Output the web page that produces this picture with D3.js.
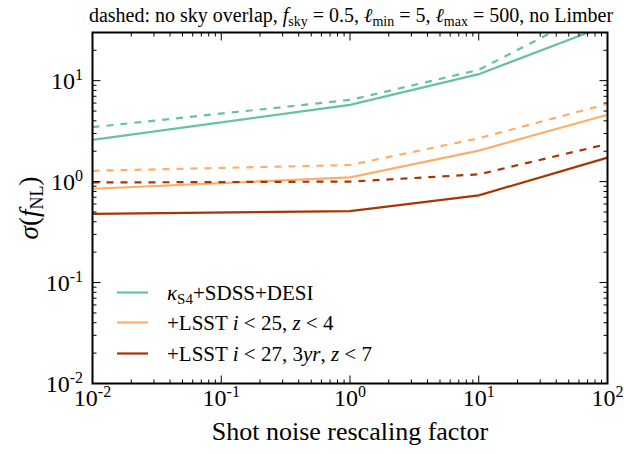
<!DOCTYPE html>
<html><head><meta charset="utf-8">
<script src="https://cdn.jsdelivr.net/npm/d3@7"></script>
<style>body{margin:0;background:#fff}</style>
</head><body><svg id="c" width="624" height="454" font-family="'Liberation Serif', 'Times New Roman', 'DejaVu Serif', serif"></svg>
<script>
const xValues = [0.01, 1, 10, 100];
const teal_solid = [2.59, 5.75, 11.6, 35.5];
const teal_dashed = [3.46, 6.44, 12.8, 57.7];
const orange_solid = [0.85, 1.10, 2.03, 4.6];
const orange_dashed = [1.28, 1.46, 2.69, 5.88];
const red_solid = [0.48, 0.51, 0.73, 1.73];
const red_dashed = [0.98, 1.0, 1.18, 2.36];
const seriesNames = ["kS4", "lsst25", "lsst27"];
const seriesColors = ["#66c2a5", "#fdae6b", "#a63603"];
const xTickExps = [-2, -1, 0, 1, 2];
const yTickExps = [-2, -1, 0, 1];

const FONT = "'Liberation Serif', 'Times New Roman', 'DejaVu Serif', serif";
const svg = d3.select("#c");
const L = 92.5, R = 607.5, T = 32.5, B = 383.5;
const x = d3.scaleLog().domain([0.01, 100]).range([L, R]);
const y = d3.scaleLog().domain([0.01, 30]).range([B, T]);

const defs = svg.append("defs");
defs.append("clipPath").attr("id","clip").append("rect")
  .attr("x", L).attr("y", T).attr("width", R-L).attr("height", B-T);

const DASH = "7,7";
const series = [
  {v: teal_solid, c: seriesColors[0], d: null},
  {v: teal_dashed, c: seriesColors[0], d: DASH},
  {v: orange_solid, c: seriesColors[1], d: null},
  {v: orange_dashed, c: seriesColors[1], d: DASH},
  {v: red_solid, c: seriesColors[2], d: null},
  {v: red_dashed, c: seriesColors[2], d: DASH}
];
const line = d3.line().x((d,i)=>x(xValues[i])).y(d=>y(d));
const g = svg.append("g").attr("clip-path","url(#clip)");
series.forEach(s=>{
  g.append("path").attr("d", line(s.v)).attr("fill","none")
   .attr("stroke", s.c).attr("stroke-width", 2.2)
   .attr("stroke-dasharray", s.d);
});

const xMajor = xTickExps.map(e=>Math.pow(10,e));
const xMinor = [];
for (let e=-2;e<2;e++) for (let k=2;k<10;k++) xMinor.push(k*Math.pow(10,e));
const yMajor = yTickExps.map(e=>Math.pow(10,e));
const yMinor = [];
for (let e=-2;e<=1;e++) for (let k=2;k<10;k++){const v=k*Math.pow(10,e); if(v<=30) yMinor.push(v);}

const tk = svg.append("g").attr("stroke","#000").attr("stroke-width",1);
xMajor.forEach(v=>{const px=x(v);
  tk.append("line").attr("x1",px).attr("x2",px).attr("y1",B).attr("y2",B-8);
  tk.append("line").attr("x1",px).attr("x2",px).attr("y1",T).attr("y2",T+8);});
xMinor.forEach(v=>{const px=x(v);
  tk.append("line").attr("x1",px).attr("x2",px).attr("y1",B).attr("y2",B-4);
  tk.append("line").attr("x1",px).attr("x2",px).attr("y1",T).attr("y2",T+4);});
yMajor.forEach(v=>{const py=y(v);
  tk.append("line").attr("x1",L).attr("x2",L+8).attr("y1",py).attr("y2",py);
  tk.append("line").attr("x1",R).attr("x2",R-8).attr("y1",py).attr("y2",py);});
yMinor.forEach(v=>{const py=y(v);
  tk.append("line").attr("x1",L).attr("x2",L+4).attr("y1",py).attr("y2",py);
  tk.append("line").attr("x1",R).attr("x2",R-4).attr("y1",py).attr("y2",py);});

svg.append("rect").attr("x",L).attr("y",T).attr("width",R-L).attr("height",B-T)
  .attr("fill","none").attr("stroke","#000").attr("stroke-width",2);

function txt(){ return svg.append("text").attr("font-family", FONT); }

xTickExps.forEach(e=>{
  const t = txt().attr("x", x(Math.pow(10,e))).attr("y", 406)
    .attr("text-anchor","middle").attr("font-size",24);
  t.append("tspan").text("10");
  t.append("tspan").attr("dy",-9).attr("font-size",16).text(e<0?"-"+(-e):String(e));
});
yTickExps.forEach(e=>{
  const t = txt().attr("x", 83).attr("y", y(Math.pow(10,e))+8)
    .attr("text-anchor","end").attr("font-size",24);
  t.append("tspan").text("10");
  t.append("tspan").attr("dy",-9).attr("font-size",16).text(e<0?"-"+(-e):String(e));
});

txt().attr("x",(L+R)/2).attr("y",440).attr("text-anchor","middle")
  .attr("font-size",26).text("Shot noise rescaling factor");
const yl = txt().attr("transform","translate(38,"+((T+B)/2)+") rotate(-90)")
  .attr("text-anchor","middle").attr("font-size",27);
yl.append("tspan").attr("font-style","italic").text("σ");
yl.append("tspan").text("(");
yl.append("tspan").attr("font-style","italic").text("f");
yl.append("tspan").attr("dy",5).attr("font-size",18).text("NL");
yl.append("tspan").attr("dy",-5).text(")");

const tt = txt().attr("x",(L+R)/2 + 1).attr("y",22).attr("text-anchor","middle").attr("font-size",20);
tt.append("tspan").text("dashed: no sky overlap, ");
tt.append("tspan").attr("font-style","italic").text("f");
tt.append("tspan").attr("dy",4).attr("font-size",14).text("sky");
tt.append("tspan").attr("dy",-4).text(" = 0.5, ");
tt.append("tspan").attr("font-style","italic").text("ℓ");
tt.append("tspan").attr("dy",4).attr("font-size",14).text("min");
tt.append("tspan").attr("dy",-4).text(" = 5, ");
tt.append("tspan").attr("font-style","italic").text("ℓ");
tt.append("tspan").attr("dy",4).attr("font-size",14).text("max");
tt.append("tspan").attr("dy",-4).text(" = 500, no Limber");

const legY = [292.5, 322.5, 353.5];
seriesNames.forEach((n,i)=>{
  svg.append("line").attr("x1",117).attr("x2",148).attr("y1",legY[i]).attr("y2",legY[i])
    .attr("stroke",seriesColors[i]).attr("stroke-width",2.2);
  const t = txt().attr("x",167).attr("y",legY[i]+7).attr("font-size",21);
  if (n==="kS4"){
    t.append("tspan").attr("font-style","italic").text("κ");
    t.append("tspan").attr("dy",4).attr("font-size",15).text("S4");
    t.append("tspan").attr("dy",-4).text("+SDSS+DESI");
  } else if (n==="lsst25"){
    t.append("tspan").text("+LSST ");
    t.append("tspan").attr("font-style","italic").text("i");
    t.append("tspan").text(" < 25, ");
    t.append("tspan").attr("font-style","italic").text("z");
    t.append("tspan").text(" < 4");
  } else {
    t.append("tspan").text("+LSST ");
    t.append("tspan").attr("font-style","italic").text("i");
    t.append("tspan").text(" < 27, 3");
    t.append("tspan").attr("font-style","italic").text("yr");
    t.append("tspan").text(", ");
    t.append("tspan").attr("font-style","italic").text("z");
    t.append("tspan").text(" < 7");
  }
});
</script></body></html>
